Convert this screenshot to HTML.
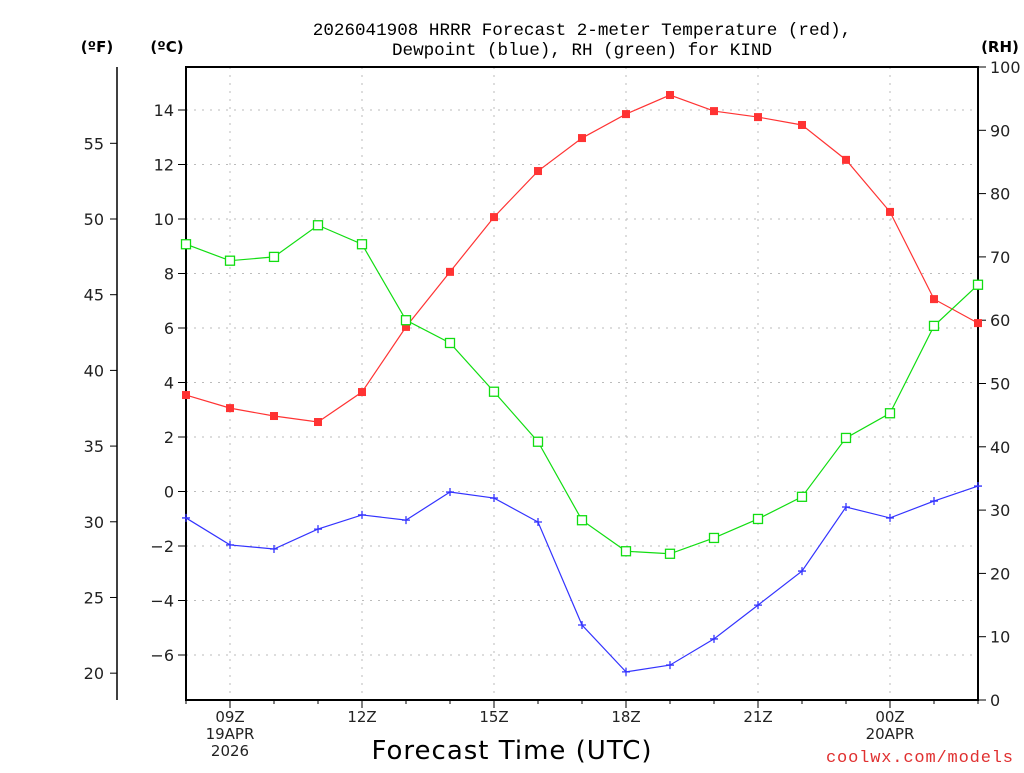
<!DOCTYPE html>
<html><head><meta charset="utf-8"><style>
body{margin:0;background:#fff;}
svg text{font-family:"DejaVu Sans","Liberation Sans",sans-serif;}
svg text.mono{font-family:"Liberation Mono","DejaVu Sans Mono",monospace;}
</style></head><body>
<svg id="chart" width="1024" height="768" xmlns="http://www.w3.org/2000/svg">
<g id="grid"></g>
<g id="axes"></g>
<g id="series"></g>
<text class="mono" x="582" y="35" text-anchor="middle" font-size="17.6" fill="#000">2026041908 HRRR Forecast 2-meter Temperature (red),</text>
<text class="mono" x="582" y="55" text-anchor="middle" font-size="17.6" fill="#000">Dewpoint (blue), RH (green) for KIND</text>
<text x="97" y="52" text-anchor="middle" font-size="15" font-weight="bold">(ºF)</text>
<text x="167" y="52" text-anchor="middle" font-size="15" font-weight="bold">(ºC)</text>
<text x="1000" y="52" text-anchor="middle" font-size="15" font-weight="bold">(RH)</text>
<text x="512" y="759" text-anchor="middle" font-size="26" letter-spacing="1">Forecast Time (UTC)</text>
<text class="mono" x="1013" y="762" text-anchor="end" font-size="17" fill="#e03030" textLength="187">coolwx.com/models</text>
</svg>
<script>
const hours=["08","09","10","11","12","13","14","15","16","17","18","19","20","21","22","23","00","01","02"];
const tempC=[3.54,3.06,2.77,2.55,3.65,6.04,8.06,10.07,11.76,12.97,13.85,14.55,13.96,13.74,13.45,12.17,10.26,7.06,6.18];
const dewC=[-0.97,-1.96,-2.11,-1.38,-0.86,-1.05,-0.02,-0.24,-1.12,-4.9,-6.62,-6.37,-5.41,-4.17,-2.92,-0.57,-0.97,-0.35,0.2];
const rh=[72.0,69.4,70.0,75.0,72.0,60.0,56.4,48.7,40.8,28.4,23.5,23.1,25.6,28.6,32.1,41.4,45.3,59.1,65.6];
const cTicks=[-6,-4,-2,0,2,4,6,8,10,12,14];
const fTicks=[20,25,30,35,40,45,50,55];
const rhTicks=[0,10,20,30,40,50,60,70,80,90,100];
const xLabels=[{i:1,t:["09Z","19APR","2026"]},{i:4,t:["12Z"]},{i:7,t:["15Z"]},{i:10,t:["18Z"]},{i:13,t:["21Z"]},{i:16,t:["00Z","20APR"]}];
const L=186,R=978,T=67,B=700;
const X=i=>L+i*(R-L)/18;
const YC=c=>491.5-c*27.25;
const YF=f=>YC((f-32)*5/9);
const YR=r=>B-r*(B-T)/100;
const NS="http://www.w3.org/2000/svg";
function mk(p,tag,a){const e=document.createElementNS(NS,tag);for(const k in a)e.setAttribute(k,a[k]);p.appendChild(e);return e;}
const grid=document.getElementById('grid'),axes=document.getElementById('axes'),ser=document.getElementById('series');
cTicks.forEach(c=>{const l=mk(grid,'line',{x1:L,x2:R,y1:YC(c),y2:YC(c),stroke:'#bbb','stroke-dasharray':'2,6'});

mk(axes,'line',{x1:L-8,x2:L,y1:YC(c),y2:YC(c),stroke:'#000'});
const t=mk(axes,'text',{x:L-12,y:YC(c)+6,'text-anchor':'end','font-size':16,fill:'#222'});t.textContent=c<0?'−'+(-c):c;
});
xLabels.forEach(o=>{const x=X(o.i);const l=mk(grid,'line',{x1:x,x2:x,y1:T,y2:B,stroke:'#bbb','stroke-dasharray':'2,6'});

o.t.forEach((s,j)=>{const t=mk(axes,'text',{x:x,y:722+j*17,'text-anchor':'middle','font-size':15,fill:'#222'});t.textContent=s;
});});
hours.forEach((h,i)=>mk(axes,'line',{x1:X(i),x2:X(i),y1:B,y2:B+(i%3==1?8:4),stroke:'#000'}));
mk(axes,'line',{x1:117,x2:117,y1:67,y2:700,stroke:'#000','stroke-width':1.5});
fTicks.forEach(f=>{mk(axes,'line',{x1:110,x2:117,y1:YF(f),y2:YF(f),stroke:'#000'});
const t=mk(axes,'text',{x:104,y:YF(f)+6,'text-anchor':'end','font-size':16,fill:'#222'});t.textContent=f;
});
rhTicks.forEach(r=>{mk(axes,'line',{x1:R,x2:R+8,y1:YR(r),y2:YR(r),stroke:'#000'});
const t=mk(axes,'text',{x:R+12,y:YR(r)+6,'font-size':16,fill:'#222'});t.textContent=r;
});
const fr=mk(axes,'rect',{x:L,y:T,width:R-L,height:B-T,fill:'none',stroke:'#000','stroke-width':2});

function line(vals,yf,col,name){const p=mk(ser,'polyline',{points:vals.map((v,i)=>X(i)+','+yf(v)).join(' '),fill:'none',stroke:col,'stroke-width':1.2});
}
line(tempC,YC,'#f33','temperature-line');line(rh,YR,'#1d1','rh-line');line(dewC,YC,'#33f','dewpoint-line');
tempC.forEach((v,i)=>{const m=mk(ser,'rect',{x:X(i)-4,y:YC(v)-4,width:8,height:8,fill:'#f33'});
});
rh.forEach((v,i)=>{const m=mk(ser,'rect',{x:X(i)-4.5,y:YR(v)-4.5,width:9,height:9,fill:'#fff',stroke:'#1d1','stroke-width':1.3});
});
dewC.forEach((v,i)=>{const x=X(i),y=YC(v);const m=mk(ser,'path',{d:`M${x-4},${y}H${x+4}M${x},${y-4}V${y+4}`,stroke:'#33f','stroke-width':1.3});
});
</script>
</body></html>
